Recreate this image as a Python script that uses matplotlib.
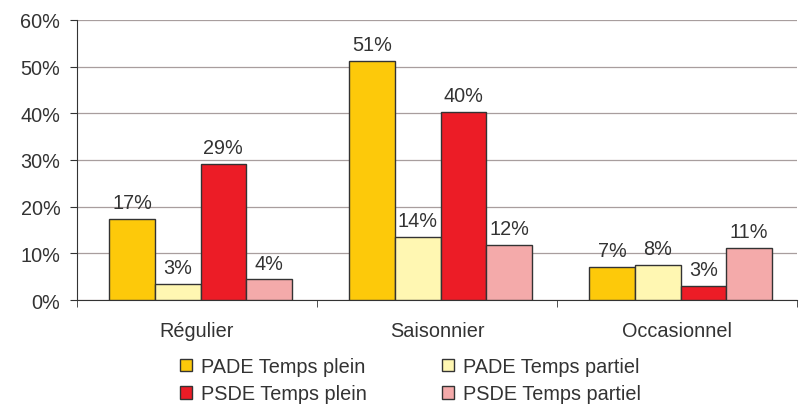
import matplotlib
matplotlib.use("Agg")
import matplotlib.pyplot as plt
import numpy as np
from matplotlib.ticker import FuncFormatter, MultipleLocator, FixedLocator

plt.rcParams['font.family'] = ['Liberation Sans', 'DejaVu Sans']

categories = ["Régulier", "Saisonnier", "Occasionnel"]
series_names = ["PADE Temps plein", "PADE Temps partiel", "PSDE Temps plein", "PSDE Temps partiel"]
pade_plein = [17.3, 51.3, 7.0]
pade_partiel = [3.4, 13.5, 7.6]
psde_plein = [29.2, 40.3, 3.0]
psde_partiel = [4.4, 11.7, 11.1]
labels = [["17%", "51%", "7%"], ["3%", "14%", "8%"], ["29%", "40%", "3%"], ["4%", "12%", "11%"]]
colors = ["#FDC90A", "#FFF7B2", "#EC1C26", "#F4AAAA"]

series = [pade_plein, pade_partiel, psde_plein, psde_partiel]

fig = plt.figure(figsize=(8.1, 4.06), dpi=100)
ax = fig.add_axes([0.095, 0.2586, 0.889, 0.6897])

x = np.arange(len(categories))
w = 0.19
txtc = "#333333"
fs = 14.3
handles = []
for i, (vals, col, lab, name) in enumerate(zip(series, colors, labels, series_names)):
    pos = x + (i - 1.5) * w + 0.015
    bars = ax.bar(pos, vals, width=w, color=col, edgecolor="#333333", linewidth=1.0,
                  label=name, zorder=3)
    handles.append(bars)
    for b, t in zip(bars, lab):
        ax.annotate(t, (b.get_x() + b.get_width() / 2, b.get_height()),
                    xytext=(0, 5), textcoords="offset points", ha="center", va="bottom",
                    fontsize=fs, color=txtc)

ax.set_ylim(0, 60)
ax.set_xlim(-0.5, 2.5)
ax.yaxis.set_major_locator(MultipleLocator(10))
ax.yaxis.set_major_formatter(FuncFormatter(lambda v, p: f"{int(v)}%"))
ax.grid(axis="y", color="#A89E9E", linewidth=0.9, zorder=0)
ax.set_xticks(x)
ax.set_xticklabels(categories)
ax.xaxis.set_minor_locator(FixedLocator([-0.5, 0.5, 1.5, 2.5]))
ax.tick_params(axis="x", which="major", length=0, pad=15, labelsize=fs, labelcolor=txtc)
ax.tick_params(axis="x", which="minor", length=5, color="#333333")
ax.tick_params(axis="y", length=5, color="#333333", labelsize=fs, labelcolor=txtc, pad=7)
for s in ["top", "right"]:
    ax.spines[s].set_visible(False)
ax.spines["left"].set_color("#333333")
ax.spines["bottom"].set_color("#333333")

order = [0, 2, 1, 3]
leg = fig.legend([handles[k] for k in order], [series_names[k] for k in order],
                 loc="lower left", bbox_to_anchor=(0.205, -0.03), ncol=2, frameon=False,
                 fontsize=fs, handlelength=0.6, handleheight=0.6, handletextpad=0.45,
                 columnspacing=3.8, labelspacing=0.42, borderpad=0.2)
for t in leg.get_texts():
    t.set_color(txtc)

fig.savefig("out.png", dpi=100)
